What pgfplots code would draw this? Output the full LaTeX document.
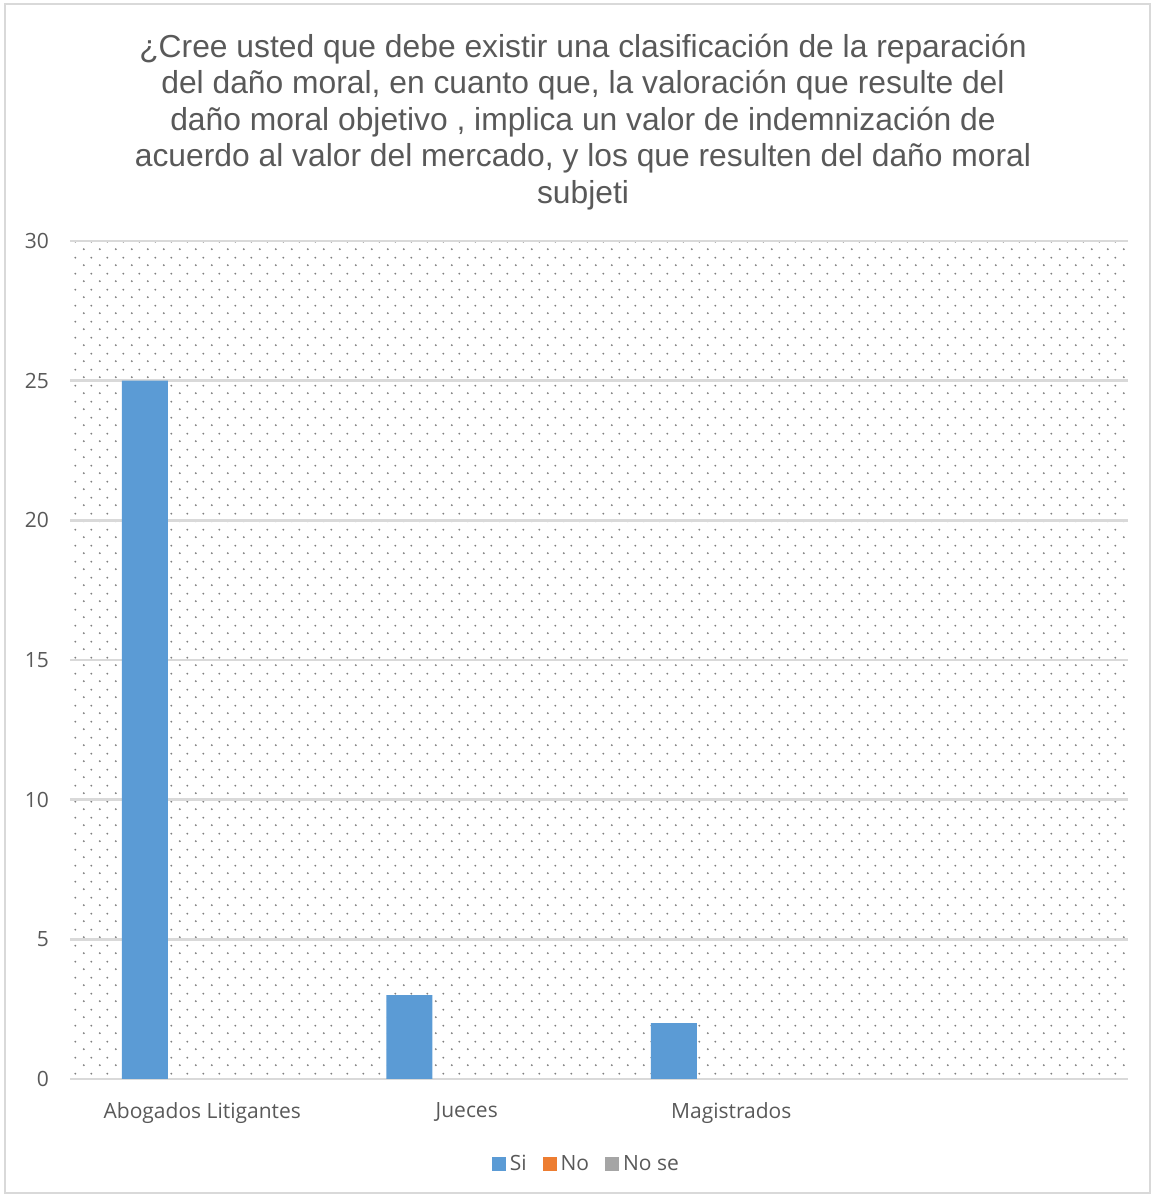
\documentclass[border=0pt]{standalone}
\usepackage{pgfplots}
\pgfplotsset{compat=1.18}
\usepackage{fontspec}
\setmainfont{Liberation Sans}
\newfontfamily\tickfont{Open Sans}
\usetikzlibrary{patterns.meta}
\definecolor{txt}{HTML}{595959}
\definecolor{gridc}{HTML}{D9D9D9}
\definecolor{si}{HTML}{5B9BD5}
\definecolor{no}{HTML}{ED7D31}
\definecolor{nose}{HTML}{A5A5A5}
\pgfdeclarepattern{
  name=xldots,
  type=uncolored,
  bottom left={\pgfpointorigin},
  top right={\pgfpoint{8pt}{8pt}},
  tile size={\pgfpoint{8pt}{8pt}},
  code={\pgfpathcircle{\pgfpoint{2pt}{2pt}}{0.55pt}\pgfpathcircle{\pgfpoint{6pt}{6pt}}{0.55pt}\pgfusepath{fill}}
}
\pgfplotstableread{
x si no nose
0 25 0 0
1 3 0 0
2 2 0 0
}\datatable
\begin{document}
\begin{tikzpicture}
\useasboundingbox (0,0) rectangle (577pt,598.5pt);
\draw[gridc, line width=0.8pt] (2.5pt,2pt) rectangle (575pt,596.5pt);
\node[anchor=north, align=center, font=\fontsize{15.9}{18.25}\selectfont, text=txt] at (291.5pt,585pt)
 {¿Cree usted que debe existir una clasificación de la reparación\\
  del daño moral, en cuanto que, la valoración que resulte del\\
  daño moral objetivo , implica un valor de indemnización de\\
  acuerdo al valor del mercado, y los que resulten del daño moral\\
  subjeti};
\begin{axis}[
  at={(35pt,59pt)}, anchor=south west,
  width=529pt, height=419pt, scale only axis,
  ybar=5.75pt, bar width=23pt,
  xmin=-0.5, xmax=3.5, ymin=0, ymax=30,
  xtick={0,1,2}, xticklabels={Abogados Litigantes,Jueces,Magistrados},
  ytick={0,5,...,30},
  ymajorgrids, grid style={gridc, line width=1.3pt},
  axis line style={draw=none},
  major tick length=0pt,
  /pgf/number format/assume math mode=true,
  ticklabel style={font=\tickfont\fontsize{10.5}{12}\selectfont, text=txt},
  yticklabel style={xshift=-7pt},
  xticklabel style={yshift=-8pt},
  axis background/.style={pattern=xldots, pattern color=gray},
  unbounded coords=discard,
  y filter/.expression={y==0 ? nan : y},
  legend style={at={(0.489,-0.102)}, anchor=center, draw=none, fill=none,
    legend columns=3, font=\tickfont\fontsize{10.5}{12}\selectfont, text=txt,
    /tikz/every even column/.append style={column sep=6pt}},
  legend image code/.code={\fill[#1] (0pt,-3.5pt) rectangle (7pt,3.5pt);},
]
\addplot[fill=si, draw=none] table[x=x, y=si] {\datatable};
\addlegendentry{Si}
\addplot[fill=no, draw=none] table[x=x, y=no] {\datatable};
\addplot[fill=nose, draw=none] table[x=x, y=nose] {\datatable};
\addlegendimage{fill=no, draw=none}
\addlegendentry{No}
\addlegendimage{fill=nose, draw=none}
\addlegendentry{No se}
\end{axis}
\end{tikzpicture}
\end{document}
